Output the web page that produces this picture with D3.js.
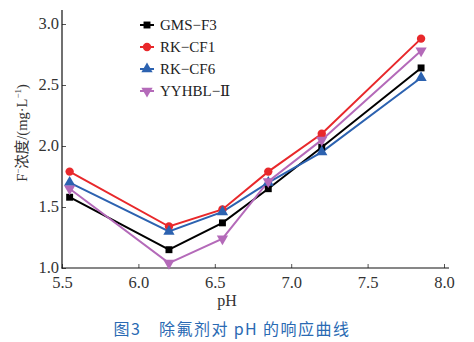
<!DOCTYPE html>
<html><head><meta charset="utf-8">
<script src="https://cdn.jsdelivr.net/npm/d3@7"></script>
<style>body{margin:0;background:#fff}</style>
</head><body><svg id="c" width="474" height="342"></svg>
<script>
const pH = [5.55, 6.2, 6.55, 6.85, 7.2, 7.85];
const seriesNames = ["GMS\u2212F3", "RK\u2212CF1", "RK\u2212CF6", "YYHBL\u2212\u2161"];
const gms = [1.58, 1.15, 1.37, 1.65, 1.99, 2.64];
const cf1 = [1.79, 1.34, 1.48, 1.79, 2.10, 2.88];
const cf6 = [1.70, 1.30, 1.46, 1.70, 1.95, 2.56];
const yyh = [1.65, 1.04, 1.24, 1.71, 2.05, 2.78];
const xTicks = [5.5, 6.0, 6.5, 7.0, 7.5, 8.0];
const yTicks = [1.0, 1.5, 2.0, 2.5, 3.0];
const colors = ["#000000", "#e8282b", "#2c62b0", "#b46ab9"];
const symbols = [d3.symbolSquare, d3.symbolCircle, d3.symbolTriangle, "down"];
const data = [gms, cf1, cf6, yyh];
const SERIF = "'Liberation Serif','DejaVu Serif',serif";

const svg = d3.select("#c");
const x = d3.scaleLinear().domain([5.5, 8.0]).range([62, 444]);
const y = d3.scaleLinear().domain([1.0, 3.0]).range([268, 24]);

const xa = svg.append("g").attr("transform", "translate(0,268)")
  .call(d3.axisBottom(x).tickValues(xTicks).tickSize(-4).tickFormat(d3.format(".1f")));
const ya = svg.append("g").attr("transform", "translate(62,0)")
  .call(d3.axisLeft(y).tickValues(yTicks).tickSize(-4).tickFormat(d3.format(".1f")));
[xa, ya].forEach(a => {
  a.attr("font-family", SERIF).attr("font-size", 16.5);
  a.select(".domain").remove();
  a.selectAll("line").attr("stroke", "#555").attr("stroke-width", 1);
  a.selectAll("text").style("font-family", SERIF).style("font-size", "16.5px").attr("fill", "#333");
});
xa.selectAll("text").attr("dy", "1.0em").attr("y", 3);
ya.selectAll("text").attr("x", -3).attr("dy", "0.3em");
svg.append("line").attr("x1", 62).attr("x2", 62).attr("y1", 10).attr("y2", 268.5).attr("stroke", "#111").attr("stroke-width", 1.2);
svg.append("line").attr("x1", 61.5).attr("x2", 449).attr("y1", 268).attr("y2", 268).attr("stroke", "#111").attr("stroke-width", 1.2);

function sym(i, size) {
  if (symbols[i] === "down") return d3.symbol(d3.symbolTriangle, size)();
  return d3.symbol(symbols[i], size)();
}
const sizes = [48, 55, 55, 55];
const line = d3.line().x((d, i) => x(pH[i])).y(d => y(d));
data.forEach((vals, k) => {
  svg.append("path").datum(vals).attr("d", line).attr("fill", "none")
    .attr("stroke", colors[k]).attr("stroke-width", 2);
});
data.forEach((vals, k) => {
  svg.selectAll(null).data(vals).enter().append("path")
    .attr("d", sym(k, sizes[k]))
    .attr("transform", (d, i) => `translate(${x(pH[i])},${y(d)})` + (k === 3 ? " rotate(180)" : ""))
    .attr("fill", colors[k]);
});

const legY = [25, 47, 69, 91];
seriesNames.forEach((n, k) => {
  const g = svg.append("g").attr("transform", `translate(0,${legY[k]})`);
  g.append("line").attr("x1", 140).attr("x2", 154).attr("stroke", colors[k]).attr("stroke-width", 2);
  g.append("path").attr("d", sym(k, sizes[k]))
    .attr("transform", "translate(147,0)" + (k === 3 ? " rotate(180)" : "")).attr("fill", colors[k]);
  g.append("text").attr("x", 160).attr("dy", "0.35em").style("font-family", SERIF)
    .style("font-size", "15px").attr("fill", "#222").text(n);
});

svg.append("text").attr("x", 227).attr("y", 306).attr("text-anchor", "middle")
  .style("font-family", SERIF).style("font-size", "16px").attr("fill", "#333").text("pH");
const yt = svg.append("text").attr("transform", "translate(27,133) rotate(-90)").attr("text-anchor", "middle")
  .style("font-family", "'Liberation Serif','Noto Sans CJK SC',serif").style("font-size", "14.5px").attr("fill", "#333");
yt.append("tspan").text("F");
yt.append("tspan").style("font-size", "9px").attr("dy", -6).text("\u2212");
yt.append("tspan").attr("dy", 6).text("浓度/(mg·L");
yt.append("tspan").style("font-size", "9px").attr("dy", -6).text("\u22121");
yt.append("tspan").attr("dy", 6).text(")");

svg.append("text").attr("x", 232).attr("y", 335).attr("text-anchor", "middle")
  .style("font-family", "'Noto Sans CJK SC',sans-serif").style("font-size", "16px").style("font-weight", 400)
  .style("letter-spacing", "1.5px")
  .attr("fill", "#2a6ab3").text("图3\u3000除氟剂对\u2009pH\u2009的响应曲线");
</script></body></html>
